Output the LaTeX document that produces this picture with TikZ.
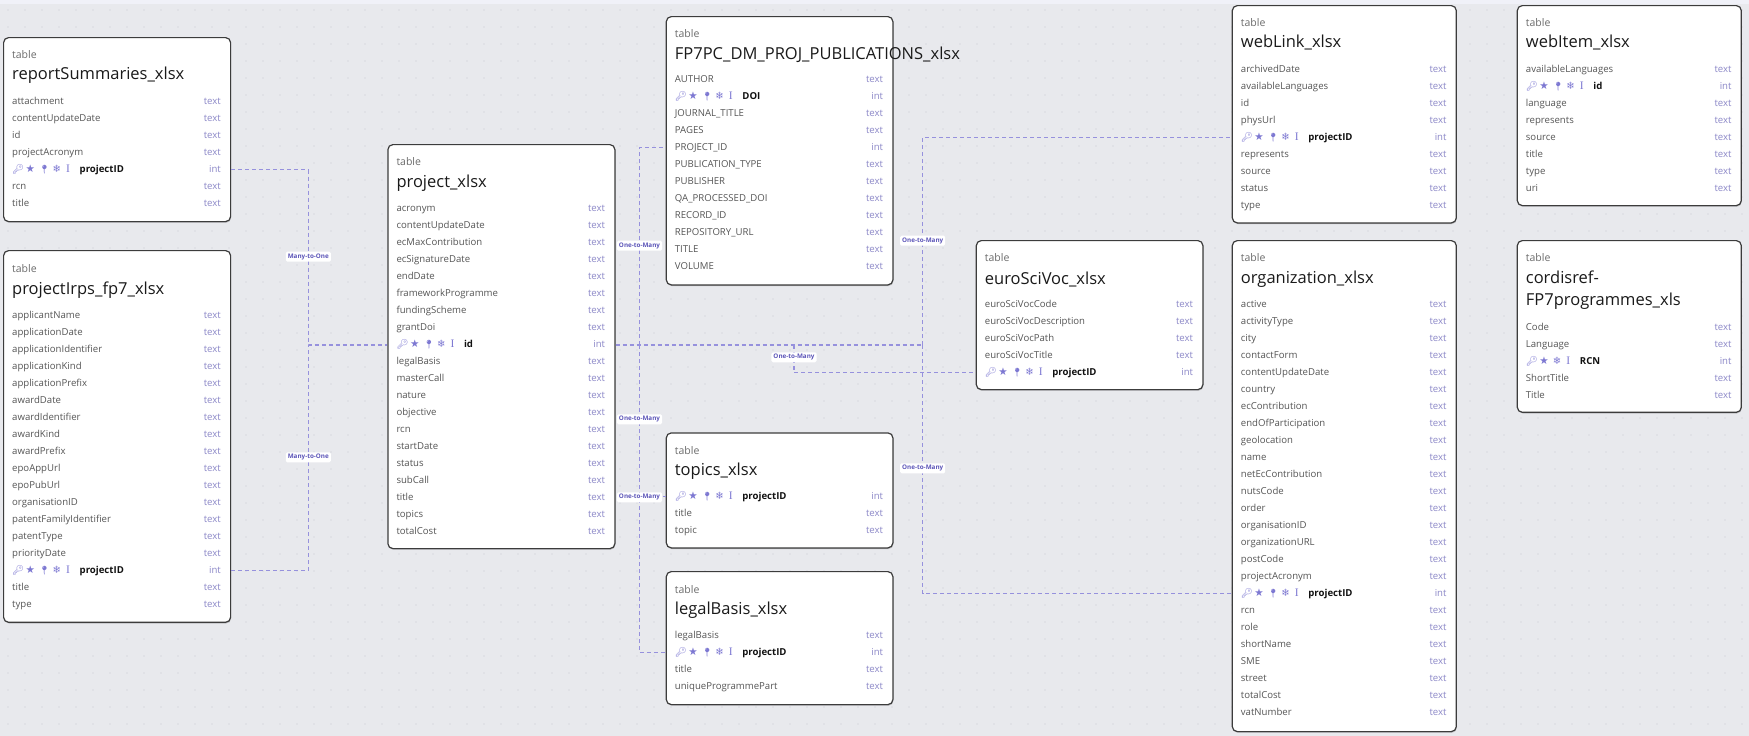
\documentclass[tikz,border=0pt]{standalone}
\usepackage{fontspec}
\setmainfont{Open Sans}
\newfontfamily\emojifont{Noto Emoji}
\newfontfamily\symfont{DejaVu Sans}
\newfontfamily\ibeamfont{Liberation Serif}
\usetikzlibrary{shadows}

\definecolor{canvas}{HTML}{E8E9ED}
\definecolor{topband}{HTML}{F0F1F8}
\definecolor{dotcol}{HTML}{C8C9D1}
\definecolor{boxline}{HTML}{3C3C3C}
\definecolor{labelgray}{HTML}{6B6B6B}
\definecolor{titleblack}{HTML}{1A1A1A}
\definecolor{fieldgray}{HTML}{555555}
\definecolor{typecol}{HTML}{8C88C8}
\definecolor{keytext}{HTML}{111111}
\definecolor{iconcol}{HTML}{7D78D2}
\definecolor{relcol}{HTML}{9691DD}
\definecolor{reltext}{HTML}{5B54B8}

% key field: icons and bold name
\newcommand{\iconbox}[1]{\makebox[13.5pt][l]{#1}}
\newcommand{\keyfield}[1]{{\color{iconcol}\iconbox{\emojifont\fontsize{9.5}{9}\selectfont 🔑}\iconbox{\symfont\fontsize{10.5}{9}\selectfont ★}\iconbox{\emojifont\fontsize{8.5}{9}\selectfont 📍}\iconbox{\symfont\fontsize{10}{9}\selectfont ❄}\iconbox{\ibeamfont\fontsize{11.5}{9}\selectfont I}}{\color{keytext}\bfseries #1}}
\newcommand{\rcnfield}{{\color{iconcol}\iconbox{\emojifont\fontsize{9.5}{9}\selectfont 🔑}\iconbox{\symfont\fontsize{10.5}{9}\selectfont ★}\iconbox{\symfont\fontsize{10}{9}\selectfont ❄}\iconbox{\ibeamfont\fontsize{11.5}{9}\selectfont I}}{\color{keytext}\bfseries RCN}}

\begin{document}
\begin{tikzpicture}[x=1pt, y=-1pt,
  tablebox/.style={draw=boxline, line width=1.2pt, fill=white, rounded corners=5pt, anchor=north west, inner sep=0pt,
    drop shadow={shadow xshift=0.5pt, shadow yshift=-1.2pt, opacity=0.18, fill=black}},
  tablelabel/.style={anchor=west, inner sep=0pt, text=labelgray, font=\fontsize{10.5}{12}\selectfont},
  tabletitle/.style={anchor=west, inner sep=0pt, text=titleblack, align=left, font=\fontsize{16.5}{22}\selectfont},
  fieldname/.style={anchor=west, inner sep=0pt, text height=6.8pt, text depth=2.2pt, text=fieldgray,
    font=\fontsize{9.6}{11}\selectfont},
  fieldtype/.style={anchor=east, inner sep=0pt, text height=6.8pt, text depth=2.2pt, text=typecol,
    font=\fontsize{9.6}{11}\selectfont},
  relline/.style={draw=relcol, line width=1.1pt, dash pattern=on 4pt off 3pt},
  rellabel/.style={fill=white, rounded corners=1.5pt, inner xsep=2pt, inner ysep=2pt, text=reltext,
    font=\fontsize{6.3}{7}\selectfont\bfseries}]

% canvas and dot grid
\useasboundingbox (0,0) rectangle (1749,736);
\fill[canvas] (0,0) rectangle (1749,736);
\fill[topband] (0,0) rectangle (1749,3.5);
\foreach \x in {8,25,...,1749}
  \foreach \y in {10,27,...,736}
    \fill[dotcol] (\x,\y) circle (0.7pt);

% reportSummaries_xlsx
\node[tablebox, minimum width=227pt, minimum height=184pt] (rs) at (3,37) {};
\node[tablelabel] at (12,55) {table};
\node[tabletitle] at (12,75.5) {reportSummaries\_xlsx};
\foreach \f/\t [count=\i from 0] in {attachment/text, contentUpdateDate/text, id/text, projectAcronym/text,
    {\keyfield{projectID}}/int, rcn/text, title/text}{
  \node[fieldname] (rs-\i) at (12,{101.7+17*\i}) {\f};
  \node[fieldtype] at (221,{101.7+17*\i}) {\t};
}

% projectIrps_fp7_xlsx
\node[tablebox, minimum width=227pt, minimum height=371.7pt] (ir) at (3,250) {};
\node[tablelabel] at (12,269) {table};
\node[tabletitle] at (12,290) {projectIrps\_fp7\_xlsx};
\foreach \f/\t [count=\i from 0] in {applicantName/text, applicationDate/text, applicationIdentifier/text,
    applicationKind/text, applicationPrefix/text, awardDate/text, awardIdentifier/text, awardKind/text,
    awardPrefix/text, epoAppUrl/text, epoPubUrl/text, organisationID/text, patentFamilyIdentifier/text,
    patentType/text, priorityDate/text, {\keyfield{projectID}}/int, title/text, type/text}{
  \node[fieldname] (ir-\i) at (12,{315.7+17*\i}) {\f};
  \node[fieldtype] at (221,{315.7+17*\i}) {\t};
}

% project_xlsx
\node[tablebox, minimum width=227pt, minimum height=404pt] (pj) at (387.3,144) {};
\node[tablelabel] at (396.3,162) {table};
\node[tabletitle] at (396.3,183) {project\_xlsx};
\foreach \f/\t [count=\i from 0] in {acronym/text, contentUpdateDate/text, ecMaxContribution/text,
    ecSignatureDate/text, endDate/text, frameworkProgramme/text, fundingScheme/text, grantDoi/text,
    {\keyfield{id}}/int, legalBasis/text, masterCall/text, nature/text, objective/text, rcn/text,
    startDate/text, status/text, subCall/text, title/text, topics/text, totalCost/text}{
  \node[fieldname] (pj-\i) at (396.3,{209+17*\i}) {\f};
  \node[fieldtype] at (605.3,{209+17*\i}) {\t};
}

% FP7PC_DM_PROJ_PUBLICATIONS_xlsx
\node[tablebox, minimum width=226.6pt, minimum height=268.3pt] (pub) at (665.7,16) {};
\node[tablelabel] at (674.7,34) {table};
\node[tabletitle] at (674.7,55) {FP7PC\_DM\_PROJ\_PUBLICATIONS\_xlsx};
\foreach \f/\t [count=\i from 0] in {AUTHOR/text, {\keyfield{DOI}}/int, JOURNAL\_TITLE/text, PAGES/text,
    PROJECT\_ID/int, PUBLICATION\_TYPE/text, PUBLISHER/text, QA\_PROCESSED\_DOI/text, RECORD\_ID/text,
    REPOSITORY\_URL/text, TITLE/text, VOLUME/text}{
  \node[fieldname] (pub-\i) at (674.7,{79.7+17*\i}) {\f};
  \node[fieldtype] at (883.3,{79.7+17*\i}) {\t};
}

% topics_xlsx
\node[tablebox, minimum width=226.6pt, minimum height=115pt] (tp) at (665.7,432.3) {};
\node[tablelabel] at (674.7,451) {table};
\node[tabletitle] at (674.7,471) {topics\_xlsx};
\foreach \f/\t [count=\i from 0] in {{\keyfield{projectID}}/int, title/text, topic/text}{
  \node[fieldname] (tp-\i) at (674.7,{496.7+17*\i}) {\f};
  \node[fieldtype] at (883.3,{496.7+17*\i}) {\t};
}

% legalBasis_xlsx
\node[tablebox, minimum width=226.6pt, minimum height=133pt] (lb) at (665.7,571) {};
\node[tablelabel] at (674.7,590) {table};
\node[tabletitle] at (674.7,610) {legalBasis\_xlsx};
\foreach \f/\t [count=\i from 0] in {legalBasis/text, {\keyfield{projectID}}/int, title/text,
    uniqueProgrammePart/text}{
  \node[fieldname] (lb-\i) at (674.7,{635.7+17*\i}) {\f};
  \node[fieldtype] at (883.3,{635.7+17*\i}) {\t};
}

% euroSciVoc_xlsx
\node[tablebox, minimum width=226.6pt, minimum height=149pt] (esv) at (975.7,240) {};
\node[tablelabel] at (984.7,258) {table};
\node[tabletitle] at (984.7,279) {euroSciVoc\_xlsx};
\foreach \f/\t [count=\i from 0] in {euroSciVocCode/text, euroSciVocDescription/text, euroSciVocPath/text,
    euroSciVocTitle/text, {\keyfield{projectID}}/int}{
  \node[fieldname] (esv-\i) at (984.7,{304.7+17*\i}) {\f};
  \node[fieldtype] at (1193.3,{304.7+17*\i}) {\t};
}

% webLink_xlsx
\node[tablebox, minimum width=224pt, minimum height=217.3pt] (wl) at (1231.7,5) {};
\node[tablelabel] at (1240.7,23) {table};
\node[tabletitle] at (1240.7,43) {webLink\_xlsx};
\foreach \f/\t [count=\i from 0] in {archivedDate/text, availableLanguages/text, id/text, physUrl/text,
    {\keyfield{projectID}}/int, represents/text, source/text, status/text, type/text}{
  \node[fieldname] (wl-\i) at (1240.7,{69.7+17*\i}) {\f};
  \node[fieldtype] at (1446.7,{69.7+17*\i}) {\t};
}

% webItem_xlsx
\node[tablebox, minimum width=224pt, minimum height=200pt] (wi) at (1516.7,5) {};
\node[tablelabel] at (1525.7,23) {table};
\node[tabletitle] at (1525.7,43) {webItem\_xlsx};
\foreach \f/\t [count=\i from 0] in {availableLanguages/text, {\keyfield{id}}/int, language/text,
    represents/text, source/text, title/text, type/text, uri/text}{
  \node[fieldname] (wi-\i) at (1525.7,{69.7+17*\i}) {\f};
  \node[fieldtype] at (1731.7,{69.7+17*\i}) {\t};
}

% organization_xlsx
\node[tablebox, minimum width=224pt, minimum height=491pt] (org) at (1231.7,240) {};
\node[tablelabel] at (1240.7,258) {table};
\node[tabletitle] at (1240.7,279) {organization\_xlsx};
\foreach \f/\t [count=\i from 0] in {active/text, activityType/text, city/text, contactForm/text,
    contentUpdateDate/text, country/text, ecContribution/text, endOfParticipation/text, geolocation/text,
    name/text, netEcContribution/text, nutsCode/text, order/text, organisationID/text,
    organizationURL/text, postCode/text, projectAcronym/text, {\keyfield{projectID}}/int, rcn/text,
    role/text, shortName/text, SME/text, street/text, totalCost/text, vatNumber/text}{
  \node[fieldname] (org-\i) at (1240.7,{304.7+17*\i}) {\f};
  \node[fieldtype] at (1446.7,{304.7+17*\i}) {\t};
}

% cordisref-FP7programmes_xls
\node[tablebox, minimum width=224pt, minimum height=171.7pt] (cr) at (1516.7,240) {};
\node[tablelabel] at (1525.7,258) {table};
\node[tabletitle] at (1525.7,290) {cordisref-\\FP7programmes\_xls};
\foreach \f/\t [count=\i from 0] in {Code/text, Language/text, {\rcnfield}/int, ShortTitle/text, Title/text}{
  \node[fieldname] (cr-\i) at (1525.7,{328+17*\i}) {\f};
  \node[fieldtype] at (1731.7,{328+17*\i}) {\t};
}

% relations
\coordinate (jL) at (308.3,345);
\coordinate (jA) at (639.5,345);
\coordinate (jB) at (794,345);
\coordinate (jC) at (922.7,345);
\draw[relline] (rs.east |- rs-4) -| (jL) -- (pj.west |- pj-8);
\draw[relline] (ir.east |- ir-15) -| (jL);
\draw[relline] (pj.east |- pj-8) -- (jC);
\draw[relline] (jA) |- (pub.west |- pub-4);
\draw[relline] (jA) |- (tp.west |- tp-0);
\draw[relline] (jA) |- (lb.west |- lb-1);
\draw[relline] (jB) |- (esv.west |- esv-4);
\draw[relline] (jC) |- (wl.west |- wl-4);
\draw[relline] (jC) |- (org.west |- org-17);

\node[rellabel] (m1) at (308.3,256.7) {Many-to-One};
\node[rellabel] (m2) at (308.3,457.3) {Many-to-One};
\node[rellabel] (o1) at (639.5,245.7) {One-to-Many};
\node[rellabel] (o2) at (639.5,419.3) {One-to-Many};
\node[rellabel] (o3) at (639.5,497.3) {One-to-Many};
\node[rellabel] (o4) at (794,357.3) {One-to-Many};
\node[rellabel] (o5) at (922.7,240.7) {One-to-Many};
\node[rellabel] (o6) at (922.7,468.3) {One-to-Many};
\end{tikzpicture}
\end{document}
